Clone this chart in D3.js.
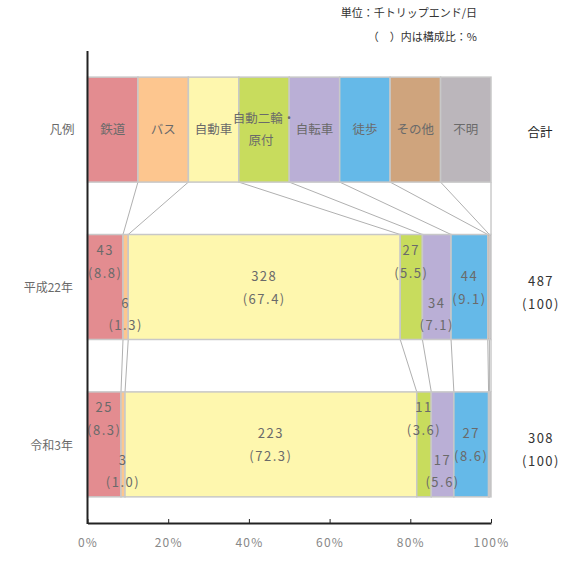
<!DOCTYPE html>
<html lang="ja">
<head>
<meta charset="utf-8">
<script src="https://cdn.jsdelivr.net/npm/d3@7"></script>
<style>
  html, body { margin: 0; padding: 0; background: #fff; }
  svg { display: block; font-family: "Noto Sans CJK JP", "Noto Sans", sans-serif; }
</style>
</head>
<body>
<svg id="chart" width="562" height="565"></svg>
<script>
// 交通手段別 トリップエンド数
const modes = ["鉄道", "バス", "自動車", "自動二輪・原付", "自転車", "徒歩", "その他", "不明"];
const modeColors = ["#e38c90", "#fdc68f", "#fef7ae", "#c8dc5d", "#baafd6", "#65b9e8", "#cfa47d", "#bbb6bb"];
const rowLabels = ["凡例", "平成22年", "令和3年"];
const years = ["平成22年", "令和3年"];

// 千トリップエンド/日（その他・不明は数値表示なし）
const countsH22 = [43, 6, 328, 27, 34, 44, null, null];
const countsR3 = [25, 3, 223, 11, 17, 27, null, null];
// 構成比（%）
const sharesH22 = [8.8, 1.3, 67.4, 5.5, 7.1, 9.1, 0.4, 0.4];
const sharesR3 = [8.3, 1.0, 72.3, 3.6, 5.6, 8.6, 0.2, 0.4];
const totals = [487, 308];
const totalShares = [100, 100];

const tickValues = [0, 20, 40, 60, 80, 100];
const tickLabels = ["0%", "20%", "40%", "60%", "80%", "100%"];

// ---- layout ----
const svg = d3.select("#chart");
const x = d3.scaleLinear().domain([0, 100]).range([87.5, 491]);
const y = d3.scaleBand().domain(rowLabels).range([51, 523]).paddingInner(0.333).paddingOuter(0.166);
const bw = y.bandwidth();

const yearData = [
  { year: years[0], counts: countsH22, shares: sharesH22, total: totals[0], totalShare: totalShares[0] },
  { year: years[1], counts: countsR3, shares: sharesR3, total: totals[1], totalShare: totalShares[1] }
];

function stackShares(shares) {
  let acc = 0;
  return shares.map((s, i) => {
    const seg = { i, x0: acc, x1: acc + s, share: s };
    acc += s;
    return seg;
  });
}

const legendShares = modes.map(() => 100 / modes.length);
const legendStack = stackShares(legendShares);
yearData.forEach(d => { d.stack = stackShares(d.shares); });

// connector lines between rows
const rowsStack = [legendStack, yearData[0].stack, yearData[1].stack];
const gLinks = svg.append("g").attr("stroke", "#b0b0b0").attr("stroke-width", 1).attr("fill", "none");
for (let r = 0; r < 2; r++) {
  const yTop = y(rowLabels[r]) + bw;
  const yBot = y(rowLabels[r + 1]);
  rowsStack[r].forEach((seg, i) => {
    gLinks.append("line")
      .attr("x1", x(seg.x1)).attr("y1", yTop)
      .attr("x2", x(rowsStack[r + 1][i].x1)).attr("y2", yBot);
  });
}

// legend row
const gLegend = svg.append("g");
gLegend.selectAll("rect").data(legendStack).join("rect")
  .attr("x", d => x(d.x0)).attr("width", d => x(d.x1) - x(d.x0))
  .attr("y", y(rowLabels[0])).attr("height", bw)
  .attr("fill", d => modeColors[d.i])
  .attr("stroke", "#c8c8c8").attr("stroke-width", 1.5);

gLegend.selectAll("text").data(legendStack).join("text")
  .attr("x", d => (x(d.x0) + x(d.x1)) / 2)
  .attr("y", y(rowLabels[0]) + bw / 2)
  .attr("text-anchor", "middle")
  .attr("font-size", 12.5).attr("fill", "#6a6a6a")
  .each(function (d) {
    const t = d3.select(this);
    const name = modes[d.i];
    if (name.includes("・")) {
      const parts = name.split("・");
      t.append("tspan").attr("x", (x(d.x0) + x(d.x1)) / 2).attr("dy", "-0.55em").text(parts[0] + "・");
      t.append("tspan").attr("x", (x(d.x0) + x(d.x1)) / 2 - 3).attr("dy", "1.75em").text(parts[1]);
    } else {
      t.attr("dy", "0.35em").text(name);
    }
  });

// year bars
const slot = ["top", "bottom", "middle", "top", "bottom", "middle"];
const slotOffset = { top: [16, 38.5], middle: [42, 65], bottom: [68.5, 91] };

yearData.forEach((d, r) => {
  const top = y(rowLabels[r + 1]);
  const g = svg.append("g");
  g.selectAll("rect").data(d.stack).join("rect")
    .attr("x", s => x(s.x0)).attr("width", s => x(s.x1) - x(s.x0))
    .attr("y", top).attr("height", bw)
    .attr("fill", s => modeColors[s.i])
    .attr("stroke", "#c8c8c8").attr("stroke-width", 1.5);

  const labeled = d.stack.filter(s => d.counts[s.i] !== null);
  const lab = g.selectAll("g.lab").data(labeled).join("g").attr("class", "lab");
  lab.append("text")
    .attr("x", s => (x(s.x0) + x(s.x1)) / 2)
    .attr("y", s => top + slotOffset[slot[s.i]][0])
    .text(s => d.counts[s.i]);
  lab.append("text")
    .attr("x", s => (x(s.x0) + x(s.x1)) / 2)
    .attr("y", s => top + slotOffset[slot[s.i]][1])
    .text(s => "(" + d.shares[s.i].toFixed(1) + ")");
  lab.selectAll("text")
    .attr("text-anchor", "middle").attr("dy", "0.35em")
    .attr("font-size", 13).attr("letter-spacing", 1.5).attr("fill", "#6a6a6a");

  // totals
  const tg = svg.append("g").attr("text-anchor", "middle").attr("font-size", 13)
    .attr("letter-spacing", 1.5).attr("fill", "#333");
  tg.append("text").attr("x", 541).attr("y", top + 47).attr("dy", "0.35em").text(d.total);
  tg.append("text").attr("x", 541).attr("y", top + 70).attr("dy", "0.35em").text("(" + d.totalShare + ")");
});

// row labels
svg.append("text").attr("x", 62).attr("y", y(rowLabels[0]) + bw / 2).attr("dy", "0.35em")
  .attr("text-anchor", "middle").attr("font-size", 12.5).attr("fill", "#6a6a6a").text(rowLabels[0]);
svg.selectAll("text.year").data(years).join("text").attr("class", "year")
  .attr("x", 73).attr("y", d => y(d) + bw / 2 + 1).attr("dy", "0.35em")
  .attr("text-anchor", "end").attr("font-size", 12).attr("fill", "#6a6a6a").text(d => d);

svg.append("text").attr("x", 540).attr("y", y(rowLabels[0]) + bw / 2 + 3).attr("dy", "0.35em")
  .attr("text-anchor", "middle").attr("font-size", 12.5).attr("fill", "#222").text("合計");

// unit notes
svg.append("text").attr("x", 477).attr("y", 13).attr("dy", "0.35em").attr("text-anchor", "end")
  .attr("font-size", 11).attr("fill", "#333").text("単位：千トリップエンド/日");
svg.append("text").attr("x", 477).attr("y", 37).attr("dy", "0.35em").attr("text-anchor", "end")
  .attr("font-size", 11).attr("fill", "#333").text("（　）内は構成比：%");

// axes
const axis = d3.axisBottom(x).tickValues(tickValues)
  .tickFormat((v, i) => tickLabels[i]).tickSizeInner(-4).tickSizeOuter(0);
const gx = svg.append("g").attr("transform", "translate(0,523)").call(axis);
gx.select(".domain").attr("stroke", "#222").attr("stroke-width", 2);
gx.selectAll(".tick line").attr("stroke", "#222").attr("stroke-width", 1);
gx.selectAll(".tick text").attr("y", 20).attr("dy", "0.35em")
  .attr("font-family", "\"Noto Sans CJK JP\", sans-serif")
  .attr("font-size", 12).attr("letter-spacing", 1.2).attr("fill", "#888");

svg.append("line").attr("x1", x(0)).attr("x2", x(0)).attr("y1", 51).attr("y2", 524)
  .attr("stroke", "#222").attr("stroke-width", 2);
</script>
</body>
</html>
